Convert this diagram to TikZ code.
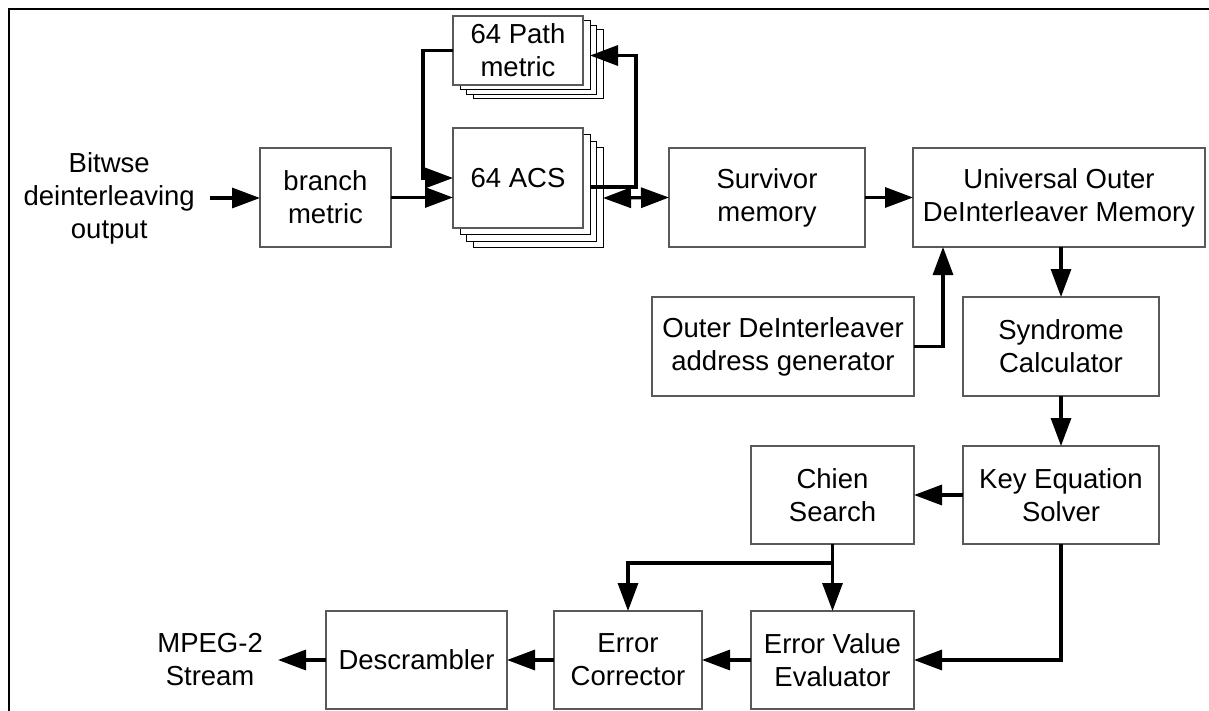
\documentclass[tikz,border=0pt]{standalone}
\usepackage{fontspec}
\setmainfont{Liberation Sans}
\usetikzlibrary{arrows.meta,calc}
\begin{document}
\begin{tikzpicture}[x=1pt,y=-1pt,
  txt/.style={font=\fontsize{27.5}{33}\selectfont, align=center},
  box/.style={txt, draw=black!65, line width=1.2pt, fill=white, inner sep=0pt, outer sep=0pt, anchor=north west},
  shbox/.style={draw=black, line width=1pt, fill=white, inner sep=0pt, outer sep=0pt, anchor=north west},
  label/.style={txt, inner xsep=15pt, inner ysep=0pt, anchor=east},
  conn/.style={line width=3.2pt, -{Triangle[length=28pt,width=20pt]}},
  bidir/.style={line width=3.2pt, {Triangle[length=28pt,width=20pt]}-{Triangle[length=28pt,width=20pt]}}
]
\useasboundingbox (0,0) rectangle (1209,711);
\draw[line width=2.5pt] (1209,9) -- (9,9) -- (9,711);

% stacked ACS
\node[shbox, minimum width=130pt, minimum height=100pt] (acs3) at (473,148) {};
\node[shbox, minimum width=130pt, minimum height=100pt] (acs2) at (466.5,141.5) {};
\node[shbox, minimum width=130pt, minimum height=100pt] (acs1) at (460,135) {};
\node[box, minimum width=130pt, minimum height=100pt] (acs) at (453,128) {64 ACS};

% stacked path metric
\node[shbox, minimum width=130pt, minimum height=69pt] (pm3) at (473,30) {};
\node[shbox, minimum width=130pt, minimum height=69pt] (pm2) at (466.5,25.5) {};
\node[shbox, minimum width=130pt, minimum height=69pt] (pm1) at (460,21) {};
\node[box, minimum width=130pt, minimum height=69pt] (pm) at (453,16) {64 Path\\metric};

\node[box, minimum width=131pt, minimum height=99pt] (bm) at (260,148) {branch\\metric};
\node[box, minimum width=196pt, minimum height=99pt] (sm) at (669,148) {Survivor\\memory};
\node[box, minimum width=292pt, minimum height=99pt] (univ) at (913,148) {Universal Outer\\DeInterleaver Memory};
\node[box, minimum width=262pt, minimum height=99pt] (oa) at (652,297) {Outer DeInterleaver\\address generator};
\node[box, minimum width=196pt, minimum height=99pt] (syn) at (963,297) {Syndrome\\Calculator};
\node[box, minimum width=196pt, minimum height=98pt] (key) at (963,446) {Key Equation\\Solver};
\node[box, minimum width=163pt, minimum height=98pt] (ch) at (751,446) {Chien\\Search};
\node[box, minimum width=163pt, minimum height=98pt] (eve) at (751,611) {Error Value\\Evaluator};
\node[box, minimum width=148pt, minimum height=98pt] (ec) at (554,611) {Error\\Corrector};
\node[box, minimum width=181pt, minimum height=98pt] (ds) at (326,611) {Descrambler};

\node[label] (bw) at (210,198) {Bitwse\\deinterleaving\\output};
\node[label] (mp) at (278,660) {MPEG-2\\Stream};

% connectors
\draw[conn] (bw.east) -- (bw.east -| bm.west);
\draw[conn] (bm.east) -- (bm.east -| acs.west);
\draw[conn] (pm.west) -- ++(-30,0) |- (acs.west);
\draw[conn] ([yshift=-2pt]acs1.east) -- ++(46,0) |- (pm1.east);
\draw[bidir] (acs3.east) -- (sm.west);
\draw[conn] (sm.east) -- (univ.west);
\draw[conn] (oa.east) -| ($(univ.south west)+(30,0)$);
\draw[conn] (univ.south -| syn.north) -- (syn.north);
\draw[conn] (syn.south) -- (key.north);
\draw[conn] (key.west) -- (ch.east);
\draw[conn] (key.south) |- (eve.east);
\draw[conn] (ch.south) -- (eve.north);
\draw[conn] (ch.south) -- ++(0,19) -| (ec.north);
\draw[conn] (eve.west) -- (ec.east);
\draw[conn] (ec.west) -- (ds.east);
\draw[conn] (ds.west) -- (mp.east);
\end{tikzpicture}
\end{document}
